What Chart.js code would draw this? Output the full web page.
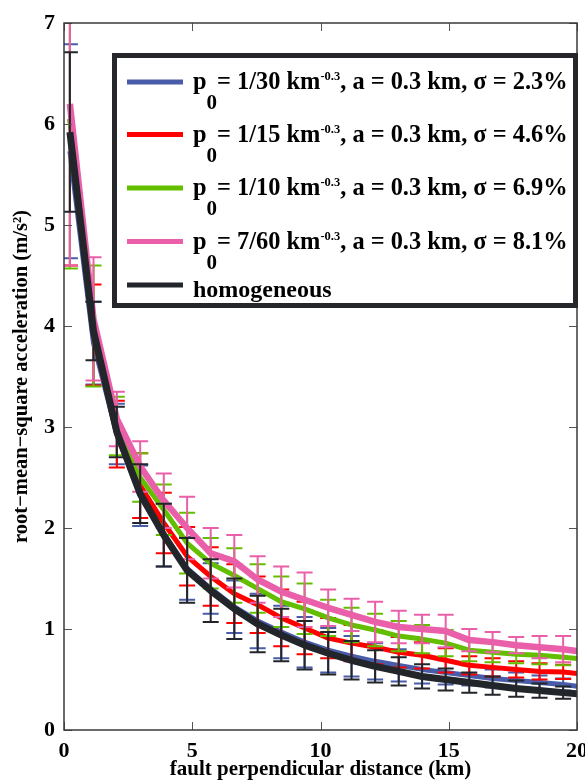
<!DOCTYPE html>
<html>
<head>
<meta charset="utf-8">
<script src="https://cdn.jsdelivr.net/npm/chart.js@4.4.0/dist/chart.umd.min.js"></script>
<style>
  html, body { margin: 0; padding: 0; background: #fff; }
</style>
</head>
<body>
<canvas id="rmsChart" width="585" height="782"></canvas>
<script>
// fault perpendicular distance (km), sample positions
const distance = [0.23, 1.15, 2.06, 2.97, 3.89, 4.8, 5.72, 6.64, 7.55, 8.47, 9.38, 10.3, 11.21, 12.13, 13.05, 13.96, 14.88, 15.8, 16.71, 17.63, 18.54, 19.46, 20.37];

// rms acceleration (m/s^2) and error bar half-heights per model
const blueRms = [5.73, 3.83, 2.93, 2.32, 1.93, 1.6, 1.4, 1.22, 1.08, 0.97, 0.87, 0.79, 0.73, 0.68, 0.64, 0.6, 0.57, 0.54, 0.51, 0.49, 0.47, 0.45, 0.42];
const blueErr = [1.06, 0.41, 0.3, 0.3, 0.31, 0.31, 0.25, 0.26, 0.27, 0.26, 0.25, 0.22, 0.2, 0.18, 0.16, 0.14, 0.12, 0.1, 0.09, 0.08, 0.07, 0.06, null];

const redRms = [6.05, 3.91, 2.93, 2.42, 2.05, 1.72, 1.52, 1.35, 1.24, 1.11, 1.01, 0.91, 0.86, 0.82, 0.77, 0.74, 0.69, 0.64, 0.62, 0.6, 0.58, 0.575, 0.55];
const redErr = [1.45, 0.5, 0.33, 0.32, 0.3, 0.29, 0.29, 0.29, 0.28, 0.28, 0.26, 0.2, 0.18, 0.17, 0.15, 0.13, 0.12, 0.09, 0.09, 0.08, 0.08, 0.07, null];

const greenRms = [6.05, 4.0, 3.01, 2.5, 2.18, 1.85, 1.65, 1.53, 1.4, 1.27, 1.2, 1.11, 1.04, 0.99, 0.93, 0.9, 0.86, 0.79, 0.77, 0.75, 0.74, 0.72, 0.7];
const greenErr = [1.48, 0.6, 0.29, 0.24, 0.25, 0.3, 0.25, 0.27, 0.24, 0.25, 0.25, 0.18, 0.17, 0.16, 0.15, 0.14, 0.13, 0.11, 0.1, 0.09, 0.09, 0.08, null];

const pinkRms = [6.2, 4.07, 3.08, 2.61, 2.27, 2.0, 1.75, 1.67, 1.49, 1.37, 1.29, 1.21, 1.14, 1.07, 1.02, 1.0, 0.98, 0.89, 0.87, 0.84, 0.82, 0.8, 0.77];
const pinkErr = [1.6, 0.61, 0.27, 0.25, 0.27, 0.31, 0.25, 0.26, 0.23, 0.25, 0.27, 0.18, 0.16, 0.2, 0.16, 0.14, 0.16, 0.11, 0.1, 0.08, 0.11, 0.13, null];

const blackRms = [5.92, 3.95, 2.95, 2.34, 1.93, 1.58, 1.38, 1.2, 1.05, 0.94, 0.84, 0.76, 0.69, 0.63, 0.58, 0.53, 0.5, 0.47, 0.44, 0.41, 0.39, 0.37, 0.35];
const blackErr = [0.79, 0.29, 0.25, 0.29, 0.31, 0.32, 0.31, 0.3, 0.28, 0.26, 0.24, 0.21, 0.19, 0.16, 0.14, 0.12, 0.11, 0.1, 0.09, 0.08, 0.07, 0.06, null];

const xTicks = [0, 5, 10, 15, 20];
const yTicks = [0, 1, 2, 3, 4, 5, 6, 7];

// legend text pieces: [text, kind]
const legendLabels = [
    [['p', ''], ['0', 'sub'], ['= 1/30 km', ''], ['-0.3', 'sup'], [', a = 0.3 km, σ = 2.3%', '']],
    [['p', ''], ['0', 'sub'], ['= 1/15 km', ''], ['-0.3', 'sup'], [', a = 0.3 km, σ = 4.6%', '']],
    [['p', ''], ['0', 'sub'], ['= 1/10 km', ''], ['-0.3', 'sup'], [', a = 0.3 km, σ = 6.9%', '']],
    [['p', ''], ['0', 'sub'], ['= 7/60 km', ''], ['-0.3', 'sup'], [', a = 0.3 km, σ = 8.1%', '']],
    [['homogeneous', 'plain']]
];

const COLORS = {
    blue: '#485caa',
    red: '#ff0000',
    green: '#64be00',
    pink: '#ea5fa9',
    black: '#222529'
};

const FONT = '"Liberation Serif", "Times New Roman", serif';

function makeSeries(values, errors, color, width, order) {
    return {
        data: values.map((v, i) => ({ x: distance[i], y: v })),
        errors: errors,
        borderColor: color,
        backgroundColor: color,
        borderWidth: width,
        pointRadius: 0,
        pointHoverRadius: 0,
        tension: 0,
        fill: false,
        clip: 0,
        borderJoinStyle: 'round',
        order: order
    };
}

// draw each series' error bars just before its line
const errorBars = {
    id: 'errorBars',
    beforeDatasetDraw(chart, args) {
        const ds = chart.data.datasets[args.index];
        if (!ds.errors) return;
        const { ctx, chartArea } = chart;
        const xs = chart.scales.x, ys = chart.scales.y;
        ctx.save();
        ctx.beginPath();
        ctx.rect(chartArea.left, chartArea.top, chartArea.right - chartArea.left, chartArea.bottom - chartArea.top);
        ctx.clip();
        ctx.strokeStyle = ds.borderColor;
        ctx.lineWidth = 2;
        ds.data.forEach((pt, i) => {
            const e = ds.errors[i];
            if (e == null) return;
            const px = xs.getPixelForValue(pt.x);
            const top = ys.getPixelForValue(pt.y + e);
            const bot = ys.getPixelForValue(pt.y - e);
            ctx.beginPath();
            ctx.moveTo(px, top); ctx.lineTo(px, bot);
            ctx.moveTo(px - 8, top); ctx.lineTo(px + 8, top);
            ctx.moveTo(px - 8, bot); ctx.lineTo(px + 8, bot);
            ctx.stroke();
        });
        ctx.restore();
    }
};

// axes box with inward tick marks
const frame = {
    id: 'frame',
    afterDatasetsDraw(chart) {
        const { ctx, chartArea: a } = chart;
        const xs = chart.scales.x, ys = chart.scales.y;
        ctx.save();
        ctx.strokeStyle = '#555';
        ctx.lineWidth = 1;
        ctx.beginPath();
        xTicks.forEach(t => {
            const px = Math.round(xs.getPixelForValue(t)) + 0.5;
            ctx.moveTo(px, a.bottom); ctx.lineTo(px, a.bottom - 8);
            ctx.moveTo(px, a.top); ctx.lineTo(px, a.top + 8);
        });
        yTicks.forEach(t => {
            const py = Math.round(ys.getPixelForValue(t)) + 0.5;
            ctx.moveTo(a.left, py); ctx.lineTo(a.left + 8, py);
            ctx.moveTo(a.right, py); ctx.lineTo(a.right - 8, py);
        });
        ctx.stroke();
        ctx.strokeStyle = '#3a3a3a';
        ctx.lineWidth = 1.5;
        ctx.strokeRect(a.left, a.top, a.right - a.left, a.bottom - a.top);
        ctx.restore();
    }
};

// boxed legend with sub/superscripts
const boxLegend = {
    id: 'boxLegend',
    afterDraw(chart) {
        const ctx = chart.ctx;
        const colors = [COLORS.blue, COLORS.red, COLORS.green, COLORS.pink, COLORS.black];
        const lineY = [82, 134.5, 188, 241.5, 285];
        const baseY = [89, 141.5, 195, 248.5, 297];
        ctx.save();
        ctx.fillStyle = '#fff';
        ctx.fillRect(114, 55, 461, 250);
        ctx.strokeStyle = '#25272b';
        ctx.lineWidth = 5;
        ctx.strokeRect(114.5, 55.5, 461, 250);

        legendLabels.forEach((parts, r) => {
            ctx.strokeStyle = colors[r];
            ctx.lineWidth = 5;
            ctx.beginPath();
            ctx.moveTo(127, lineY[r]);
            ctx.lineTo(183, lineY[r]);
            ctx.stroke();

            let x = 193;
            ctx.fillStyle = '#000';
            ctx.textBaseline = 'alphabetic';
            ctx.textAlign = 'left';
            parts.forEach(([text, kind]) => {
                let size = 24.4, dy = 0;
                if (kind === 'sub') { size = 21; dy = 20; }
                if (kind === 'sup') { size = 12.5; dy = -9; }
                if (kind === 'plain') { size = 24; }
                ctx.font = 'bold ' + size + 'px ' + FONT;
                ctx.fillText(text, x, baseY[r] + dy);
                x += ctx.measureText(text).width;
            });
        });
        ctx.restore();
    }
};

const datasets = [
    makeSeries(blueRms, blueErr, COLORS.blue, 5, 5),
    makeSeries(redRms, redErr, COLORS.red, 5, 4),
    makeSeries(greenRms, greenErr, COLORS.green, 5, 3),
    makeSeries(pinkRms, pinkErr, COLORS.pink, 6.5, 2),
    makeSeries(blackRms, blackErr, COLORS.black, 7, 1)
];

new Chart(document.getElementById('rmsChart'), {
    type: 'line',
    data: { datasets: datasets },
    plugins: [errorBars, frame, boxLegend],
    options: {
        responsive: false,
        animation: false,
        events: [],
        layout: { padding: { top: 23, right: 8, left: 0, bottom: 0 } },
        plugins: {
            legend: { display: false },
            tooltip: { enabled: false }
        },
        scales: {
            x: {
                type: 'linear',
                min: 0,
                max: 20,
                afterFit: s => { s.height = 52; s.paddingLeft = 0; s.paddingRight = 0; },
                afterBuildTicks: s => { s.ticks = xTicks.map(v => ({ value: v })); },
                grid: { display: false, drawTicks: false },
                border: { display: false },
                ticks: {
                    padding: 8,
                    color: '#000',
                    maxRotation: 0,
                    font: { family: FONT, size: 22, weight: 'bold' }
                },
                title: {
                    display: true,
                    text: 'fault perpendicular distance (km)',
                    color: '#000',
                    padding: { top: 0, bottom: 0 },
                    font: { family: FONT, size: 21, weight: 'bold' }
                }
            },
            y: {
                type: 'linear',
                min: 0,
                max: 7,
                afterFit: s => { s.width = 64; s.paddingTop = 0; s.paddingBottom = 0; },
                afterBuildTicks: s => { s.ticks = yTicks.map(v => ({ value: v })); },
                grid: { display: false, drawTicks: false },
                border: { display: false },
                ticks: {
                    padding: 9,
                    color: '#000',
                    font: { family: FONT, size: 22, weight: 'bold' }
                },
                title: {
                    display: true,
                    text: 'root−mean−square acceleration (m/s²)',
                    color: '#000',
                    padding: { top: 9, bottom: 0 },
                    font: { family: FONT, size: 20.5, weight: 'bold' }
                }
            }
        }
    }
});
</script>
</body>
</html>
